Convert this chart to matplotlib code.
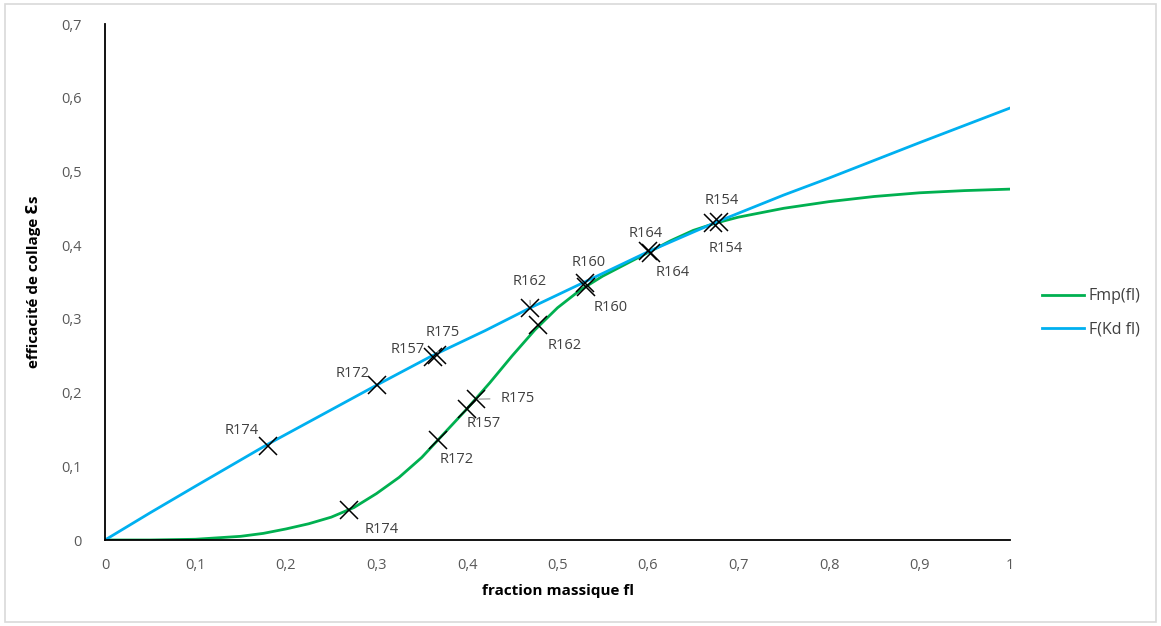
import matplotlib
matplotlib.use("Agg")
import matplotlib.pyplot as plt
from matplotlib.patches import Rectangle

plt.rcParams['font.family'] = ['Open Sans', 'DejaVu Sans']

# ---- data ----
blue_x = [0.0, 0.05, 0.10, 0.18, 0.30, 0.36, 0.42, 0.47, 0.53, 0.60, 0.675, 0.75, 0.80, 0.90, 1.00]
blue_y = [0.0, 0.037, 0.073, 0.130, 0.210, 0.249, 0.284, 0.315, 0.350, 0.391, 0.431, 0.468, 0.491, 0.539, 0.586]

green_x = [0.0, 0.05, 0.10, 0.125, 0.15, 0.175, 0.20, 0.225, 0.25, 0.275, 0.30, 0.325, 0.35,
           0.375, 0.40, 0.425, 0.45, 0.475, 0.50, 0.525, 0.55, 0.575, 0.60, 0.625, 0.65,
           0.675, 0.70, 0.725, 0.75, 0.80, 0.85, 0.90, 0.95, 1.00]
green_y = [0.0, 0.0, 0.001, 0.003, 0.005, 0.009, 0.015, 0.022, 0.031, 0.044, 0.063, 0.085, 0.112,
           0.145, 0.178, 0.213, 0.250, 0.285, 0.315, 0.339, 0.358, 0.374, 0.390, 0.406, 0.420,
           0.430, 0.438, 0.444, 0.450, 0.459, 0.466, 0.471, 0.474, 0.476]

blue_labels = ['R174', 'R172', 'R157', 'R175', 'R162', 'R160', 'R164', 'R154']
blue_mx = [0.18, 0.30, 0.362, 0.367, 0.47, 0.53, 0.60, 0.678]
blue_my = [0.128, 0.210, 0.248, 0.251, 0.315, 0.348, 0.392, 0.432]

green_labels = ['R174', 'R172', 'R157', 'R175', 'R162', 'R160', 'R164', 'R154']
green_mx = [0.27, 0.368, 0.400, 0.410, 0.479, 0.532, 0.603, 0.672]
green_my = [0.041, 0.136, 0.178, 0.191, 0.292, 0.343, 0.390, 0.430]

x_ticks = [0, 0.1, 0.2, 0.3, 0.4, 0.5, 0.6, 0.7, 0.8, 0.9, 1.0]
x_ticklabels = ['0', '0,1', '0,2', '0,3', '0,4', '0,5', '0,6', '0,7', '0,8', '0,9', '1']
y_ticks = [0, 0.1, 0.2, 0.3, 0.4, 0.5, 0.6, 0.7]
y_ticklabels = ['0', '0,1', '0,2', '0,3', '0,4', '0,5', '0,6', '0,7']

# ---- style / positions ----
blue_offsets = [(-26, 15), (-24, 12), (-25, 8), (6, 22), (-1, 26), (4, 21), (-2, 18), (3, 21)]
blue_leader = [False, False, False, True, True, False, False, False]
green_offsets = [(32, -20), (19, -20), (17, -15), (42, 1), (26, -21), (24, -20), (22, -20), (13, -25)]
green_leader = [False, False, False, True, False, False, False, False]

GREEN = '#00b050'
BLUE = '#00b0f0'
TXT = '#404040'

fig = plt.figure(figsize=(11.61, 6.26), dpi=100)
fig.patches.append(Rectangle((0.004, 0.006), 0.992, 0.988, transform=fig.transFigure,
                             fill=False, edgecolor='#d9d9d9', linewidth=1.2))
ax = fig.add_axes([105 / 1161, 86 / 626, 905 / 1161, 516 / 626])

l1, = ax.plot(green_x, green_y, color=GREEN, lw=2.0, label='Fmp(fl)', solid_joinstyle='round')
l2, = ax.plot(blue_x, blue_y, color=BLUE, lw=2.0, label='F(Kd fl)', solid_joinstyle='round')

ax.plot(blue_mx, blue_my, linestyle='none', marker='x', ms=13, mew=1.1, color='black')
ax.plot(green_mx, green_my, linestyle='none', marker='x', ms=13, mew=1.1, color='black')

def label_points(labels, xs, ys, offs, leaders):
    for lab, x, y, (dx, dy), lead in zip(labels, xs, ys, offs, leaders):
        kw = {}
        if lead:
            kw['arrowprops'] = dict(arrowstyle='-', color='#a6a6a6', lw=1.0, shrinkA=6, shrinkB=2)
        ax.annotate(lab, xy=(x, y), xytext=(dx, dy), textcoords='offset pixels',
                    ha='center', va='center', fontsize=10.5, color=TXT, **kw)

label_points(blue_labels, blue_mx, blue_my, blue_offsets, blue_leader)
label_points(green_labels, green_mx, green_my, green_offsets, green_leader)

ax.set_xlim(0, 1)
ax.set_ylim(0, 0.7)
ax.set_xticks(x_ticks)
ax.set_xticklabels(x_ticklabels)
ax.set_yticks(y_ticks)
ax.set_yticklabels(y_ticklabels)
ax.tick_params(length=0, labelsize=10.5, labelcolor='#595959')
ax.tick_params(axis='x', pad=13)
ax.tick_params(axis='y', pad=17)
for s in ['top', 'right']:
    ax.spines[s].set_visible(False)
for s in ['left', 'bottom']:
    ax.spines[s].set_color('black')
    ax.spines[s].set_linewidth(1.3)

ax.set_xlabel('fraction massique fl', fontsize=11, fontweight='bold', color='black', labelpad=8)
ax.set_ylabel('efficacité de collage Ɛs', fontsize=11, fontweight='bold', color='black', labelpad=14)

fig.legend(handles=[l1, l2], loc='center left', bbox_to_anchor=(1028 / 1161, 1 - 313 / 626),
           frameon=False, fontsize=11.5, handlelength=2.6, labelspacing=1.1,
           handletextpad=0.3, labelcolor='#404040')

fig.savefig('out.png', dpi=100, facecolor='white')
